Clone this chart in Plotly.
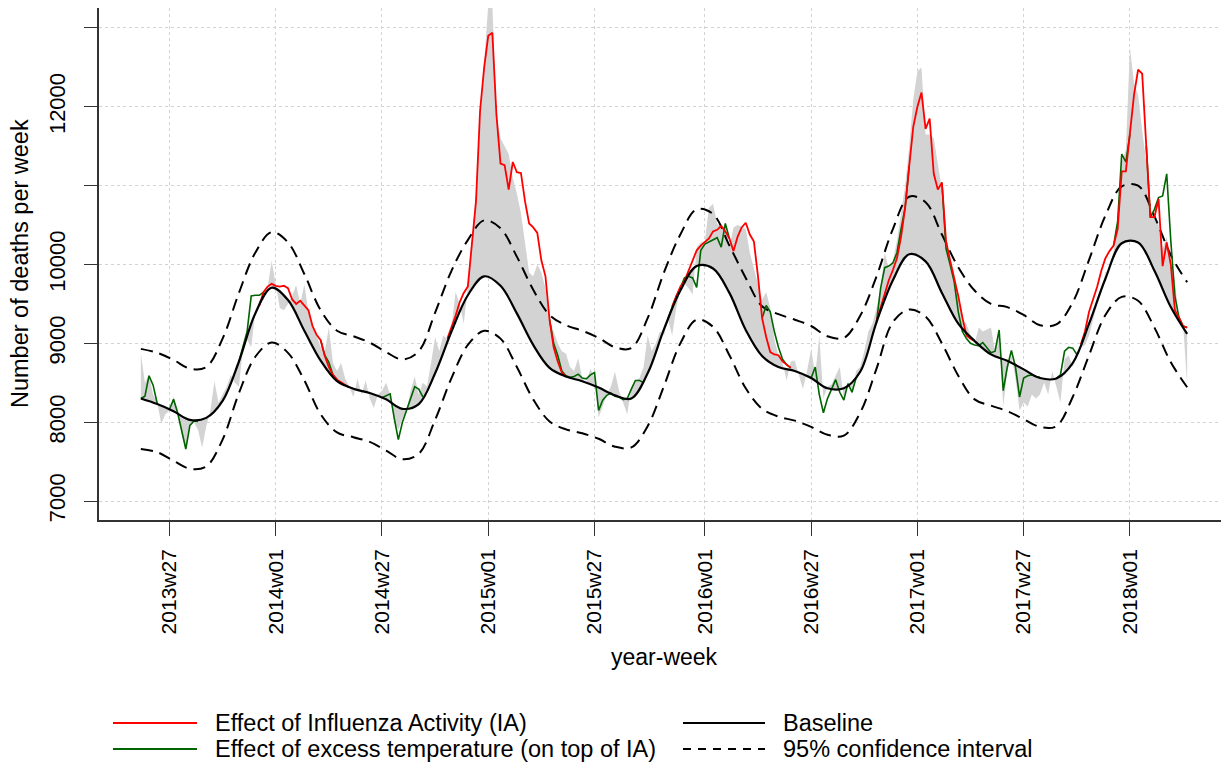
import plotly.graph_objects as go

# ISO year-weeks shown on the x axis (2013w20 .. 2018w15)
weeks_in_year = {2013: 52, 2014: 52, 2015: 53, 2016: 52, 2017: 52, 2018: 52}
weeks = []
yr, wk = 2013, 20
while (yr, wk) <= (2018, 15):
    weeks.append(f"{yr}w{wk:02d}")
    wk += 1
    if wk > weeks_in_year[yr]:
        yr, wk = yr + 1, 1

tick_labels = ["2013w27", "2014w01", "2014w27", "2015w01", "2015w27",
               "2016w01", "2016w27", "2017w01", "2017w27", "2018w01"]
y_ticks = [7000, 8000, 9000, 10000, 11000, 12000, 13000]
y_ticktext = ["7000", "8000", "9000", "10000", "", "12000", ""]

# baseline and 95% CI, read every 4th week
smooth_weeks = weeks[::4]
baseline = [8300, 8230, 8140, 8030, 8055, 8270, 8770, 9380, 9705, 9550,
            9160, 8780, 8520, 8425, 8370, 8290, 8170, 8230, 8620, 9150,
            9610, 9850, 9730, 9380, 8980, 8690, 8580, 8520, 8440, 8340,
            8300, 8620, 9180, 9670, 9980, 9950, 9640, 9170, 8840, 8700,
            8650, 8560, 8430, 8430, 8640, 9270, 9800, 10130, 10040, 9640,
            9250, 9030, 8860, 8780, 8670, 8560, 8555, 8750, 9250, 9820,
            10270, 10280, 9920, 9460, 9120]
ci_upper = [8930, 8880, 8790, 8680, 8700, 9060, 9640, 10150, 10410, 10280,
            9880, 9420, 9160, 9090, 9010, 8890, 8795, 8900, 9390, 9920,
            10310, 10560, 10460, 10100, 9680, 9360, 9230, 9160, 9070, 8950,
            8940, 9320, 9900, 10380, 10700, 10640, 10240, 9830, 9470, 9370,
            9300, 9220, 9090, 9070, 9350, 9850, 10450, 10860, 10790, 10380,
            9965, 9670, 9500, 9460, 9360, 9230, 9240, 9520, 10060, 10620,
            10990, 11000, 10610, 10120, 9775]
ci_lower = [7660, 7620, 7510, 7410, 7440, 7780, 8370, 8830, 9010, 8880,
            8530, 8100, 7870, 7810, 7750, 7640, 7530, 7600, 8030, 8560,
            8980, 9160, 9060, 8700, 8290, 8010, 7910, 7860, 7790, 7690,
            7680, 7950, 8460, 9000, 9300, 9210, 8850, 8430, 8170, 8070,
            8020, 7940, 7840, 7830, 8120, 8680, 9270, 9430, 9340, 9000,
            8590, 8290, 8210, 8140, 8040, 7940, 7950, 8320, 8850, 9360,
            9590, 9540, 9200, 8760, 8444]

# observed weekly deaths (top of the grey area)
observed = [8870, 8500, 8600, 8350, 8250, 7980, 8100, 8150, 8330, 8150,
            7850, 7650, 7950, 8000, 7900, 7680, 7950, 8150, 8520, 8250,
            8350, 8450, 8600, 8500, 8450, 8950, 9050, 8950, 9400, 9550,
            9550, 9700, 10050, 9750, 9450, 9420, 9500, 9600, 9740, 9500,
            9750, 9400, 9250, 9100, 8950, 8900, 9200, 8750, 8650, 8750,
            8550, 8450, 8320, 8550, 8350, 8530, 8300, 8180, 8350, 8400,
            8500, 8350, 8000, 7900, 8050, 8150, 8400, 8580, 8350, 8500,
            8450, 8750, 9080, 8900, 9100, 9050, 9200, 9650, 9500, 9250,
            9700, 10250, 10900, 11800, 12600, 13300, 13300, 11900, 11600, 11500,
            11400, 11100, 10900, 10650, 10300, 9900, 9850, 10000, 9900, 9700,
            9300, 9150, 9000, 8900, 8870, 8700, 8650, 8810, 8560, 8500,
            8680, 8560, 8060, 8200, 8350, 8450, 8640, 8400, 8260, 8100,
            8440, 8520, 8560, 8700, 9100, 8900, 9000, 9150, 9100, 9300,
            9100, 9450, 9700, 9760, 9700, 9620, 10220, 10280, 10300, 10720,
            10770, 10520, 10470, 10480, 10220, 10470, 10500, 10480, 10450, 10150,
            9960, 9750, 9550, 9650, 9450, 9050, 8850, 8750, 8530, 8770,
            8780, 8600, 8420, 8650, 8930, 8600, 9100, 8300, 8450, 8480,
            8600, 8700, 8300, 8500, 8350, 8650, 8700, 8900, 9150, 9250,
            9450, 9700, 10150, 9950, 10050, 10300, 10650, 11000, 11500, 12100,
            12450, 12500, 11650, 11650, 11600, 11250, 10950, 10300, 10100, 9900,
            9600, 9300, 9250, 9100, 9000, 9200, 9150, 9180, 9200, 8900,
            9150, 8200, 8650, 8850, 8550, 8150, 8250, 8200, 8350, 8300,
            8350, 8500, 8350, 8650, 8450, 8250, 8800, 8850, 8700, 8900,
            8950, 8980, 9100, 9300, 9500, 9650, 9900, 9950, 10150, 10550,
            11300, 11450, 12750, 12300, 12150, 11700, 11300, 10700, 10600, 10500,
            10200, 10350, 10000, 9800, 9300, 9250, 8480]

# baseline + influenza activity effect (drawn where it departs from baseline)
ia_segments = [
    ("2013w49", [9480, 9650, 9720, 9755, 9730, 9720, 9730, 9700, 9560, 9500,
                 9540, 9480, 9420, 9220, 9110, 9040, 8840, 8700, 8600, 8540,
                 8510, 8470, 8440]),
    ("2014w43", [9060, 9200, 9350, 9520, 9640, 9720, 10250, 10800, 11950, 12500,
                 12900, 12940, 11900, 11280, 11260, 10950, 11300, 11170, 11160, 10800,
                 10520, 10470, 10400, 10050, 9850, 9300, 8950, 8770, 8630, 8580]),
    ("2015w46", [9470, 9600, 9720, 9790, 9920, 10050, 10180, 10240, 10280, 10330,
                 10420, 10440, 10490, 10420, 10330, 10170, 10350, 10470, 10530, 10380,
                 10290, 9850, 9320, 9080, 8890, 8860, 8850, 8770, 8730, 8690]),
    ("2016w43", [9280, 9450, 9640, 9800, 9930, 10080, 10350, 10720, 11250, 11750,
                 12000, 12180, 11720, 11850, 11150, 10950, 11040, 10300, 10050, 9830,
                 9600, 9330, 9100, 9060, 9030]),
    ("2017w41", [8990, 9150, 9400, 9560, 9720, 9920, 10080, 10170, 10240, 10450,
                 11180, 11180, 11650, 12150, 12470, 12420, 11500, 10600, 10600, 10830,
                 9980, 10280, 10000, 9420, 9330, 9220, 9200]),
]

# baseline + IA + excess temperature effect
temp_segments = [
    ("2013w20", [8300, 8330, 8590, 8470, 8240]),
    ("2013w27", [8165, 8290, 8120, 7900, 7660, 7960, 8015, 8010]),
    ("2013w44", [8770, 8950, 9150, 9600, 9610, 9610, 9650]),
    ("2014w12", [9040, 8850, 8760, 8600, 8540]),
    ("2014w27", [8310, 8330, 8360, 8050, 7780, 8000, 8150, 8300, 8450, 8420, 8320]),
    ("2015w16", [9300, 9000, 8850, 8650, 8590, 8570, 8580, 8610, 8560, 8550,
                 8600, 8630, 8150, 8280, 8340, 8370, 8330, 8320, 8285, 8300,
                 8420, 8530, 8530, 8500]),
    ("2015w45", [9320, 9470, 9600, 9700, 9830, 9850, 9830, 9710, 10180, 10260,
                 10290, 10320, 10340, 10220, 10520, 10330]),
    ("2016w15", [9320, 9480, 9400, 9150, 8950, 8800, 8730, 8690]),
    ("2016w26", [8590, 8560, 8700, 8350, 8120, 8300, 8420, 8540, 8380, 8280,
                 8490, 8380, 8560, 8640]),
    ("2016w43", [9270, 9700, 9960, 9980, 10020, 10150, 10450, 10720, 11250]),
    ("2017w07", [11040, 10200, 10000, 9780, 9400, 9150, 9060, 9000, 8980, 8970,
                 9010, 8950, 8880, 8900, 9170, 8400, 8700, 8910, 8700, 8320,
                 8560, 8590, 8600, 8580, 8570]),
    ("2017w35", [8555, 8600, 8900, 8950, 8940, 8860]),
    ("2017w49", [10240, 10550, 11400, 11300, 11650]),
    ("2018w05", [11500, 10600, 10700, 10850, 10870, 11150, 10300, 9600, 9330, 9220, 9200]),
]


def place(segments):
    ys = [None] * len(weeks)
    for start, vals in segments:
        k = weeks.index(start)
        ys[k:k + len(vals)] = vals
    return ys


FONT = "Arial, Liberation Sans, sans-serif"
DASH = "12px,7px"

fig = go.Figure()

# grey area between baseline and observed deaths
fig.add_trace(go.Scatter(x=smooth_weeks, y=baseline, mode="lines",
                         line=dict(width=0, shape="spline"), hoverinfo="skip",
                         showlegend=False))
fig.add_trace(go.Scatter(x=weeks, y=observed, mode="lines", fill="tonexty",
                         fillcolor="#D3D3D3", line=dict(width=0, color="#D3D3D3"),
                         showlegend=False))

# confidence interval
for ci in (ci_upper, ci_lower):
    fig.add_trace(go.Scatter(x=smooth_weeks, y=ci, mode="lines",
                             line=dict(color="black", width=2, dash=DASH, shape="spline"),
                             showlegend=False))

fig.add_trace(go.Scatter(x=weeks, y=place(temp_segments), mode="lines",
                         line=dict(color="#006400", width=1.6),
                         connectgaps=False, showlegend=False))
fig.add_trace(go.Scatter(x=weeks, y=place(ia_segments), mode="lines",
                         line=dict(color="#FF0000", width=1.8),
                         connectgaps=False, showlegend=False))
fig.add_trace(go.Scatter(x=smooth_weeks, y=baseline, mode="lines",
                         line=dict(color="black", width=2.2, shape="spline"),
                         showlegend=False))

# the page body has an 8px margin, so the figure starts at (8, 8) on screen;
# positions below are screen pixels of the reference converted to paper units
PLOT_L, PLOT_T, PLOT_W, PLOT_H = 99, 8, 1130, 512


def px(x):
    return (x - PLOT_L) / PLOT_W


def py(y):
    return (PLOT_T + PLOT_H - y) / PLOT_H


legend_items = [
    (113, 197, 723, "#FF0000", "solid", "Effect of Influenza Activity (IA)"),
    (113, 197, 749, "#006400", "solid", "Effect of excess temperature (on top of IA)"),
    (683, 765, 723, "black", "solid", "Baseline"),
    (683, 765, 749, "black", "8px,7px", "95% confidence interval"),
]
for x0, x1, yy, col, dash, label in legend_items:
    fig.add_shape(type="line", xref="paper", yref="paper",
                  x0=px(x0), x1=px(x1), y0=py(yy), y1=py(yy),
                  line=dict(color=col, width=2, dash=dash))
    fig.add_annotation(xref="paper", yref="paper", x=px(x1 + 16), y=py(yy),
                       text=label, showarrow=False, xanchor="left", yanchor="middle",
                       font=dict(family=FONT, size=23.5, color="black"))

fig.add_annotation(xref="paper", yref="paper", x=px(20), y=0.5,
                   text="Number of deaths per week", textangle=-90, showarrow=False,
                   xanchor="center", yanchor="middle",
                   font=dict(family=FONT, size=23.5, color="black"))
fig.add_annotation(xref="paper", yref="paper", x=0.5, y=py(657),
                   text="year-week", showarrow=False, xanchor="center", yanchor="middle",
                   font=dict(family=FONT, size=23, color="black"))

fig.update_layout(
    width=1221, height=756,
    margin=dict(l=PLOT_L - 8, r=0, t=PLOT_T - 8, b=756 - (PLOT_T - 8) - PLOT_H),
    paper_bgcolor="white", plot_bgcolor="white",
    font=dict(family=FONT, size=22, color="black"),
    showlegend=False,
    xaxis=dict(
        type="category", categoryorder="array", categoryarray=weeks,
        range=[-10.24, 266.24],
        tickmode="array", tickvals=tick_labels, ticktext=tick_labels,
        tickangle=-90, ticks="outside", ticklen=14, tickcolor="#333",
        ticklabelstandoff=5,
        showline=True, linecolor="#333", linewidth=1.5,
        showgrid=True, gridcolor="#D3D3D3", griddash="dot", gridwidth=1,
        zeroline=False, tickfont=dict(size=21),
    ),
    yaxis=dict(
        range=[6760, 13253],
        tickmode="array", tickvals=y_ticks, ticktext=y_ticktext,
        tickangle=-90, ticks="outside", ticklen=13, tickcolor="#333",
        ticklabelstandoff=10,
        showline=True, linecolor="#333", linewidth=1.5,
        showgrid=True, gridcolor="#D3D3D3", griddash="dot", gridwidth=1,
        zeroline=False, tickfont=dict(size=22),
    ),
)

fig.write_html("out.html")
